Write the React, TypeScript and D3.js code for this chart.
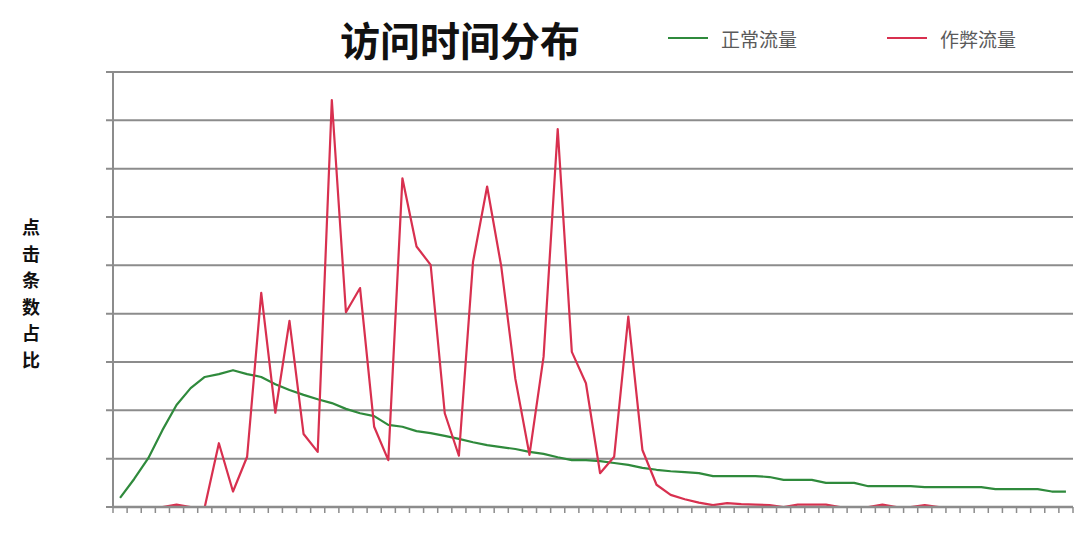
import React from "react";
import * as d3 from "d3";

const title = "访问时间分布";
const yLabel = "点击条数占比";
const seriesNames = ["正常流量", "作弊流量"];
const seriesColors = ["#2f8a3c", "#d8304f"];

// normal traffic share per time bucket
const normal = [
  0.19, 0.58, 1.01, 1.59, 2.11, 2.46, 2.69, 2.75, 2.83, 2.75,
  2.69, 2.54, 2.42, 2.32, 2.23, 2.15, 2.03, 1.94, 1.88, 1.70,
  1.66, 1.57, 1.53, 1.47, 1.41, 1.34, 1.28, 1.24, 1.20, 1.14,
  1.10, 1.03, 0.97, 0.97, 0.95, 0.91, 0.87, 0.81, 0.77, 0.74,
  0.72, 0.70, 0.64, 0.64, 0.64, 0.64, 0.62, 0.56, 0.56, 0.56,
  0.50, 0.50, 0.50, 0.43, 0.43, 0.43, 0.43, 0.41, 0.41, 0.41,
  0.41, 0.41, 0.37, 0.37, 0.37, 0.37, 0.32, 0.32,
];

// cheating traffic share per time bucket
const cheat = [
  0, 0, 0, 0, 0.05, 0, 0, 1.32, 0.32, 1.04,
  4.43, 1.95, 3.85, 1.51, 1.14, 8.42, 4.03, 4.53, 1.66, 0.97,
  6.80, 5.39, 5.01, 1.94, 1.06, 5.07, 6.63, 4.98, 2.65, 1.08,
  3.11, 7.82, 3.21, 2.56, 0.70, 1.04, 3.94, 1.18, 0.46, 0.25,
  0.16, 0.09, 0.04, 0.08, 0.06, 0.05, 0.04, 0, 0.05, 0.05,
  0.05, 0, 0, 0, 0.05, 0, 0, 0.04, 0, 0,
  0, 0, 0, 0, 0, 0, 0, 0,
];

const yTicks = [0, 1, 2, 3, 4, 5, 6, 7, 8, 9];

export default function App() {
  const W = 1080;
  const H = 534;
  const left = 113;
  const right = 1073;
  const top = 72;
  const bottom = 507;

  const idx = normal.map((_, i) => i);
  const x = d3.scaleBand<number>().domain(idx).range([left, right]).padding(0);
  const y = d3.scaleLinear().domain([0, 9]).range([bottom, top]);
  const cx = (i: number) => (x(i) as number) + x.bandwidth() / 2;

  const line = d3
    .line<number>()
    .x((_, i) => cx(i))
    .y((d) => y(d));

  const gridColor = "#8c8c8c";
  const edges = idx.map((i) => x(i) as number).concat([right]);

  return (
    <svg
      width={W}
      height={H}
      style={{ position: "absolute", left: 0, top: 0, background: "#fff" }}
    >
      <rect x={0} y={0} width={W} height={H} fill="#fff" />
      <text
        x={460}
        y={39}
        textAnchor="middle"
        dominantBaseline="central"
        fontFamily="'Noto Sans CJK SC', sans-serif"
        fontWeight="bold"
        fontSize={40}
        fill="#111"
      >
        {title}
      </text>

      {/* legend */}
      {seriesNames.map((n, k) => {
        const lx = k === 0 ? 668 : 887;
        return (
          <g key={n}>
            <line x1={lx} x2={lx + 40} y1={38} y2={38} stroke={seriesColors[k]} strokeWidth={2} />
            <text
              x={lx + 53}
              y={38}
              dominantBaseline="central"
              fontFamily="'Noto Sans CJK SC', sans-serif"
              fontSize={19}
              fill="#5a5a5a"
            >
              {n}
            </text>
          </g>
        );
      })}

      {/* y label, vertical stacked */}
      {yLabel.split("").map((ch, i) => (
        <text
          key={i}
          x={31}
          y={226 + i * 26.5}
          textAnchor="middle"
          dominantBaseline="central"
          fontFamily="'Noto Sans CJK SC', sans-serif"
          fontWeight="bold"
          fontSize={18}
          fill="#111"
        >
          {ch}
        </text>
      ))}

      {/* gridlines and left ticks */}
      {yTicks.map((t) => (
        <line
          key={t}
          x1={left - 7}
          x2={right}
          y1={y(t)}
          y2={y(t)}
          stroke={gridColor}
          strokeWidth={2}
        />
      ))}
      <line x1={left} x2={left} y1={top} y2={bottom} stroke={gridColor} strokeWidth={2} />

      {/* series */}
      <path d={line(normal) || ""} fill="none" stroke={seriesColors[0]} strokeWidth={2.2} strokeLinejoin="round" />
      <path d={line(cheat) || ""} fill="none" stroke={seriesColors[1]} strokeWidth={2.2} strokeLinejoin="round" />

      {/* x axis on top */}
      <line x1={left} x2={right} y1={bottom} y2={bottom} stroke={gridColor} strokeWidth={2.5} />
      {edges.map((ex, i) => (
        <line key={i} x1={ex} x2={ex} y1={bottom} y2={bottom + 6} stroke={gridColor} strokeWidth={1.5} />
      ))}
    </svg>
  );
}
